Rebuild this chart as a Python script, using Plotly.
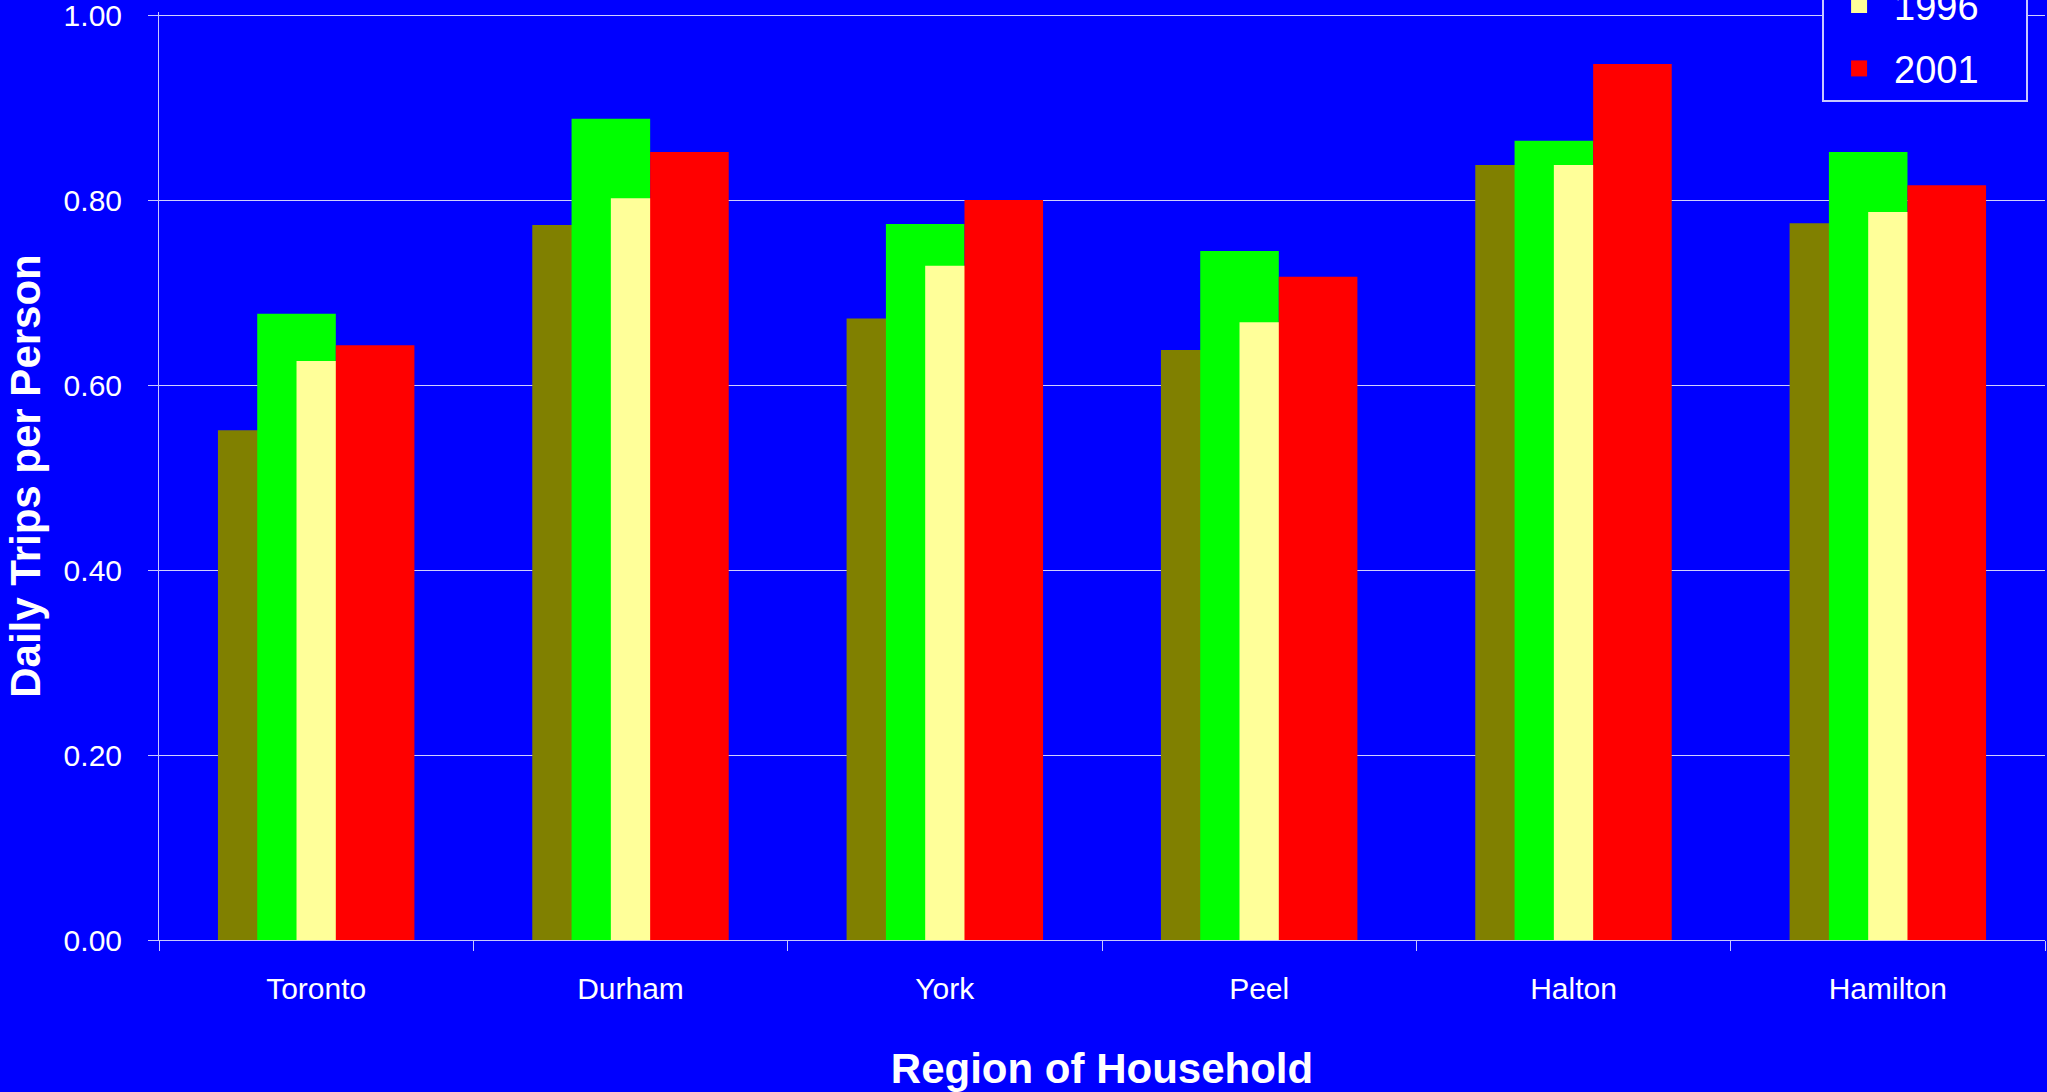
import plotly.graph_objects as go

regions = ["Toronto", "Durham", "York", "Peel", "Halton", "Hamilton"]
years = ["1986", "1991", "1996", "2001"]
v1986 = [0.551, 0.773, 0.672, 0.638, 0.838, 0.775]
v1991 = [0.677, 0.888, 0.774, 0.745, 0.864, 0.852]
v1996 = [0.626, 0.802, 0.729, 0.668, 0.838, 0.787]
v2001 = [0.643, 0.852, 0.800, 0.717, 0.947, 0.816]
series = [v1986, v1991, v1996, v2001]
colors = ["#808000", "#00FF00", "#FFFF99", "#FF0000"]
offsets = [-0.3125, -0.1875, -0.0625, 0.0625]

FONT = "Arial, Liberation Sans, sans-serif"
PAD = "\u00a0" * 4

fig = go.Figure()
for name, vals, col, off in zip(years, series, colors, offsets):
    fig.add_trace(go.Bar(
        x=regions, y=vals, name=name,
        marker=dict(color=col, line=dict(width=0)),
        width=0.25, offset=off,
        legendgroup=name, showlegend=False,
    ))
# legend entries with larger square swatches
for name, col in zip(years, colors):
    fig.add_trace(go.Scatter(
        x=[None], y=[None], mode="markers", name=name + PAD,
        marker=dict(symbol="square", size=16, color=col),
        legendgroup=name, showlegend=True,
    ))

fig.update_layout(
    width=2047, height=1092,
    barmode="overlay",
    paper_bgcolor="#0000FF", plot_bgcolor="#0000FF",
    margin=dict(l=159, r=2, t=12, b=152, autoexpand=False),
    font=dict(family=FONT, color="white", size=30),
    showlegend=True,
    legend=dict(
        x=0.8818, xanchor="left", y=0.903, yanchor="bottom",
        bgcolor="#0000FF", bordercolor="#C8C8FF", borderwidth=2,
        font=dict(size=38, color="white", family=FONT),
        tracegroupgap=11, traceorder="grouped",
        itemsizing="trace", itemwidth=60,
    ),
    xaxis=dict(
        type="category", tickson="boundaries",
        ticks="outside", ticklen=10, tickcolor="#C8C8FF",
        showline=True, linecolor="#C8C8FF", linewidth=1,
        showgrid=False, ticklabelstandoff=22,
        tickfont=dict(size=30, color="white"),
        title=dict(text="<b>Region of Household</b>", font=dict(size=42, color="white"), standoff=49),
        automargin=False,
    ),
    yaxis=dict(
        range=[0, 1.0033], tickvals=[0, 0.2, 0.4, 0.6, 0.8, 1.0], tickformat=".2f",
        ticks="outside", ticklen=10, tickcolor="#C8C8FF",
        showline=True, linecolor="#C8C8FF", linewidth=1,
        showgrid=True, gridcolor="#D0D0FF", gridwidth=1,
        zeroline=False, ticklabelstandoff=20, ticklabeloverflow="allow",
        tickfont=dict(size=30, color="white"),
        title=dict(text="<b>Daily Trips per Person</b>", font=dict(size=42, color="white"), standoff=9),
        automargin=False,
    ),
)

fig.write_html(
    "out.html",
    config={"displayModeBar": False},
    post_script="document.body.style.margin='0px';document.body.style.overflow='hidden';",
)
